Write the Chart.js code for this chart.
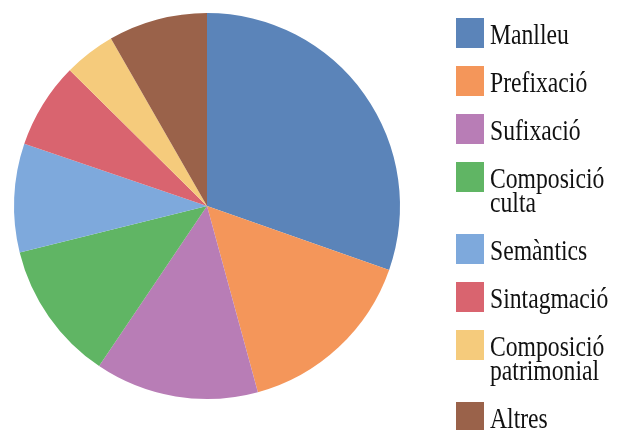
<!DOCTYPE html>
<html>
<head>
<meta charset="utf-8">
<script src="https://cdn.jsdelivr.net/npm/chart.js@4"></script>
<style>
  html, body { margin: 0; padding: 0; background: #fff; }
  #wrap { width: 620px; height: 430px; }
</style>
</head>
<body>
<div id="wrap"><canvas id="pieChart" width="620" height="430"></canvas></div>
<script>
// categories and shares (%)
const categories = ['Manlleu', 'Prefixació', 'Sufixació', 'Composició culta', 'Semàntics', 'Sintagmació', 'Composició patrimonial', 'Altres'];
const shares = [30.4, 15.4, 13.7, 11.7, 9.1, 7.2, 4.3, 8.3];
const colors = ['#5b84b9', '#f4965a', '#b87db6', '#60b564', '#7ea9dc', '#d9646f', '#f5cb7c', '#9a624a'];

// legend on the right: one box per slice, two-word labels wrapped.
// the original face is a tall, narrow serif, so the text is squeezed a bit
const sideLegend = {
    id: 'sideLegend',
    afterDraw(chart) {
        const ctx = chart.ctx;
        const meta = chart.getDatasetMeta(0);
        const boxX = chart.chartArea.right + 56;
        let y = 18;
        ctx.save();
        ctx.font = '28.5px "Liberation Serif"';
        ctx.textBaseline = 'alphabetic';
        ctx.textAlign = 'left';
        chart.data.labels.forEach((label, i) => {
            const lines = label.split(' ');
            ctx.fillStyle = meta.data[i].options.backgroundColor;
            ctx.fillRect(boxX, y, 28, 30);
            ctx.fillStyle = '#111';
            lines.forEach((line, j) => {
                ctx.save();
                ctx.translate(boxX + 34, y + 26 + j * 24);
                ctx.scale(0.83, 1);
                ctx.fillText(line, 0, 0);
                ctx.restore();
            });
            y += 48 + (lines.length - 1) * 24;
        });
        ctx.restore();
    }
};

const pieCanvas = document.getElementById('pieChart');
new Chart(pieCanvas, {
    type: 'pie',
    data: {
        labels: categories,
        datasets: [{
            data: shares,
            backgroundColor: colors,
            borderWidth: 0
        }]
    },
    options: {
        responsive: false,
        animation: false,
        layout: {
            padding: { left: 14, top: 13, right: 220, bottom: 31 }
        },
        plugins: {
            tooltip: { enabled: false },
            legend: { display: false }
        }
    },
    plugins: [sideLegend]
});
</script>
</body>
</html>
